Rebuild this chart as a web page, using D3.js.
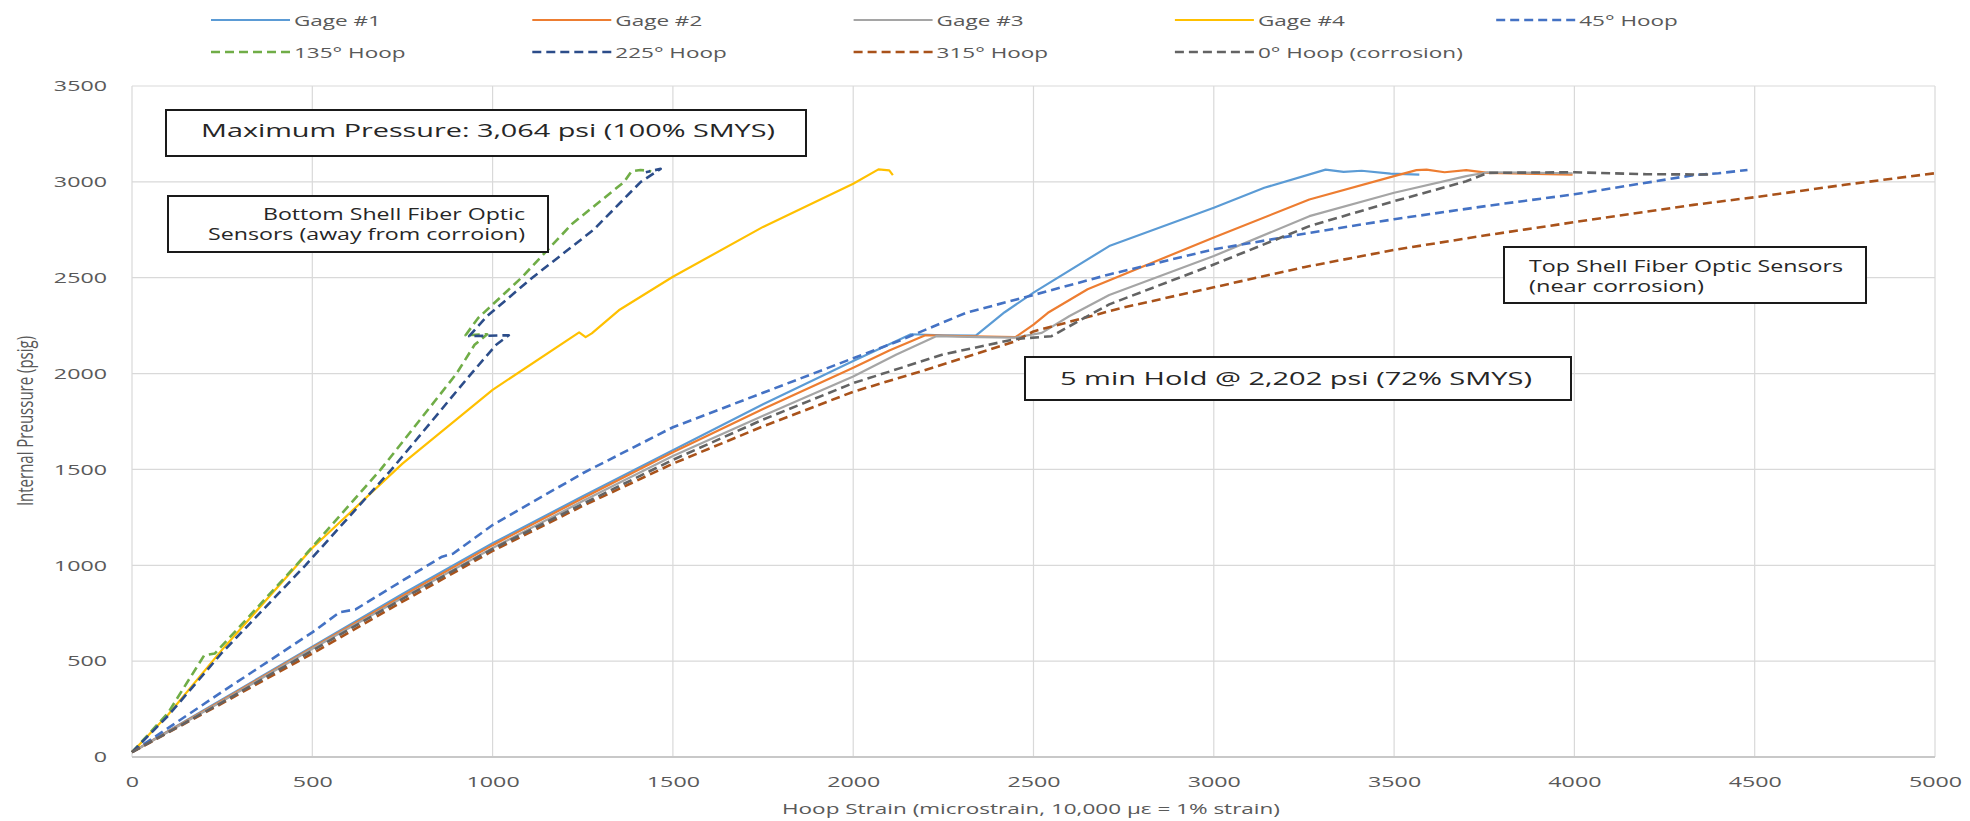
<!DOCTYPE html>
<html>
<head>
<meta charset="utf-8">
<script src="https://cdn.jsdelivr.net/npm/d3@7"></script>
<style>
  body { margin: 0; background: #fff; }
  text { font-family: "Open Sans", "DejaVu Sans", sans-serif; }
</style>
</head>
<body>
<svg id="chart"></svg>
<script>
// strain (microstrain) vs internal pressure (psig)
var gage1 = [[0,25],[250,300],[500,575],[750,850],[1000,1115],[1250,1360],[1500,1600],[1750,1840],[2000,2065],[2160,2205],[2250,2200],[2340,2198],[2420,2320],[2500,2422],[2710,2665],[3000,2865],[3140,2969],[3310,3064],[3360,3052],[3410,3058],[3490,3043],[3570,3038]];
var gage2 = [[0,25],[250,295],[500,570],[750,840],[1000,1105],[1250,1350],[1500,1590],[1750,1815],[2000,2030],[2100,2120],[2200,2200],[2300,2195],[2450,2190],[2500,2255],[2540,2317],[2650,2440],[3000,2710],[3265,2908],[3500,3030],[3562,3061],[3590,3064],[3640,3050],[3700,3061],[3760,3047],[3995,3038]];
var gage3 = [[0,25],[250,290],[500,565],[750,830],[1000,1090],[1250,1335],[1500,1570],[1750,1780],[2000,1985],[2120,2100],[2230,2195],[2350,2190],[2450,2188],[2523,2212],[2600,2300],[2710,2410],[3000,2613],[3265,2821],[3500,2943],[3700,3030],[3760,3050],[3995,3045]];
var gage4 = [[0,25],[100,220],[250,560],[500,1090],[750,1530],[1000,1915],[1240,2215],[1258,2190],[1275,2210],[1350,2330],[1500,2505],[1750,2765],[2000,2990],[2070,3065],[2100,3060],[2110,3035]];
var hoop45 = [[0,25],[250,340],[500,650],[576,755],[620,770],[750,920],[860,1045],[890,1060],[1000,1210],[1250,1480],[1500,1720],[1750,1900],[2000,2080],[2126,2170],[2313,2317],[2500,2410],[2710,2517],[3000,2648],[3265,2734],[3500,2805],[3759,2875],[4000,2935],[4330,3035],[4400,3045],[4480,3062]];
var hoop135 = [[0,25],[100,230],[200,530],[230,540],[455,1000],[690,1500],[900,2000],[950,2150],[985,2205],[925,2200],[960,2290],[1080,2500],[1220,2780],[1365,3000],[1385,3055],[1410,3062],[1440,3055]];
var hoop225 = [[0,25],[100,215],[250,545],[481,1000],[720,1500],[941,2000],[1010,2150],[1045,2200],[935,2195],[985,2300],[1110,2500],[1280,2750],[1411,3000],[1466,3068],[1425,3050]];
var hoop315 = [[0,25],[250,280],[500,540],[750,810],[1000,1075],[1250,1310],[1500,1530],[1750,1725],[2000,1905],[2220,2030],[2450,2169],[2500,2220],[2750,2345],[3000,2450],[3250,2555],[3500,2645],[3750,2720],[4000,2790],[4330,2880],[4500,2920],[4750,2985],[5000,3045]];
var hoop0 = [[0,25],[250,285],[500,555],[750,825],[1000,1085],[1250,1320],[1500,1550],[1750,1760],[2000,1950],[2250,2100],[2450,2180],[2550,2195],[2633,2282],[2710,2361],[3000,2569],[3265,2769],[3500,2899],[3700,3003],[3760,3047],[4000,3050],[4200,3040],[4380,3038]];

var seriesNames = ["Gage #1", "Gage #2", "Gage #3", "Gage #4", "45° Hoop", "135° Hoop", "225° Hoop", "315° Hoop", "0° Hoop (corrosion)"];
var seriesData = [gage1, gage2, gage3, gage4, hoop45, hoop135, hoop225, hoop315, hoop0];
var seriesColors = ["#5b9bd5", "#ed7d31", "#a5a5a5", "#ffc000", "#4472c4", "#70ad47", "#2c4d8a", "#a9521a", "#636363"];
var seriesDashed = [false, false, false, false, true, true, true, true, true];

var xTicks = [0, 500, 1000, 1500, 2000, 2500, 3000, 3500, 4000, 4500, 5000];
var yTicks = [0, 500, 1000, 1500, 2000, 2500, 3000, 3500];

var width = 1970, height = 821;
var stretchK = 1.5; // the picture is widened, so text is too

var svg = d3.select("#chart").attr("width", width).attr("height", height);

var x = d3.scaleLinear().domain([0, 5000]).range([132, 1935]);
var y = d3.scaleLinear().domain([0, 3500]).range([757, 86]);

function stretch(sel, k) {
  sel.each(function () {
    var n = this.getComputedTextLength();
    d3.select(this).attr("textLength", n * k).attr("lengthAdjust", "spacingAndGlyphs");
  });
}

// grid
svg.append("g").selectAll("line").data(xTicks).enter().append("line")
  .attr("x1", function (d) { return x(d); }).attr("x2", function (d) { return x(d); })
  .attr("y1", y(0)).attr("y2", y(3500))
  .attr("stroke", "#d9d9d9").attr("stroke-width", 1.2);
svg.append("g").selectAll("line").data(yTicks).enter().append("line")
  .attr("x1", x(0)).attr("x2", x(5000))
  .attr("y1", function (d) { return y(d); }).attr("y2", function (d) { return y(d); })
  .attr("stroke", "#d9d9d9").attr("stroke-width", 1.2);
svg.append("line").attr("x1", x(0)).attr("x2", x(5000)).attr("y1", y(0)).attr("y2", y(0))
  .attr("stroke", "#c8c8c8").attr("stroke-width", 2);

// axes
var xAxis = svg.append("g").attr("transform", "translate(0," + y(0) + ")")
  .call(d3.axisBottom(x).tickValues(xTicks).tickFormat(d3.format("d")).tickSize(0).tickPadding(19));
var yAxis = svg.append("g").attr("transform", "translate(" + x(0) + ",0)")
  .call(d3.axisLeft(y).tickValues(yTicks).tickFormat(d3.format("d")).tickSize(0).tickPadding(25));
[xAxis, yAxis].forEach(function (a) {
  a.select(".domain").remove();
  a.selectAll("text").attr("font-size", 15).attr("fill", "#595959")
    .style("font-family", "'Open Sans', sans-serif");
  stretch(a.selectAll("text"), 1.55);
});

svg.append("text").attr("x", 1031).attr("y", 814).attr("text-anchor", "middle")
  .attr("font-size", 15).attr("fill", "#595959")
  .text("Hoop Strain (microstrain, 10,000 µε = 1% strain)")
  .call(stretch, stretchK);

svg.append("text").attr("transform", "translate(33,421) scale(1.5,1) rotate(-90)")
  .attr("text-anchor", "middle").attr("font-size", 15).attr("fill", "#595959")
  .text("Internal Preussure (psig)");

// series
var line = d3.line().x(function (d) { return x(d[0]); }).y(function (d) { return y(d[1]); });
svg.append("g").selectAll("path").data(seriesData).enter().append("path")
  .attr("d", line)
  .attr("fill", "none")
  .attr("stroke", function (d, i) { return seriesColors[i]; })
  .attr("stroke-width", function (d, i) { return seriesDashed[i] ? 2.6 : 2.2; })
  .attr("stroke-dasharray", function (d, i) { return seriesDashed[i] ? "9,5" : null; })
  .attr("stroke-linejoin", "round");

// legend, two rows of five
var legend = svg.append("g").selectAll("g").data(seriesNames).enter().append("g")
  .attr("transform", function (d, i) {
    return "translate(" + (211 + (i % 5) * 321.3) + "," + (i < 5 ? 20 : 52) + ")";
  });
legend.append("line").attr("x1", 0).attr("x2", 79).attr("y1", 0).attr("y2", 0)
  .attr("stroke", function (d, i) { return seriesColors[i]; })
  .attr("stroke-width", function (d, i) { return seriesDashed[i] ? 2.6 : 2.2; })
  .attr("stroke-dasharray", function (d, i) { return seriesDashed[i] ? "9,5" : null; });
legend.append("text").attr("x", 83).attr("y", 5.5).attr("font-size", 15).attr("fill", "#595959")
  .text(function (d) { return d; })
  .call(stretch, stretchK);

// annotation boxes
var notes = [
  { box: [166, 110, 640, 46], lines: ["Maximum Pressure: 3,064 psi (100% SMYS)"], tx: 201, ty: [137], size: 18, len: [574], anchor: "start" },
  { box: [168, 196, 380, 56], lines: ["Bottom Shell Fiber Optic", "Sensors (away from corroion)"], tx: 525, ty: [220, 240], size: 16, len: [262, 317], anchor: "end" },
  { box: [1504, 247, 362, 56], lines: ["Top Shell Fiber Optic Sensors", "(near corrosion)"], tx: 1529, ty: [272, 292], size: 16, len: [314, 175], anchor: "start" },
  { box: [1025, 357, 546, 43], lines: ["5 min Hold @ 2,202 psi (72% SMYS)"], tx: 1060, ty: [385], size: 19, len: [472], anchor: "start" }
];
notes.forEach(function (n) {
  svg.append("rect").attr("x", n.box[0]).attr("y", n.box[1]).attr("width", n.box[2]).attr("height", n.box[3])
    .attr("fill", "#fff").attr("stroke", "#1a1a1a").attr("stroke-width", 2);
  n.lines.forEach(function (t, j) {
    svg.append("text").attr("x", n.tx).attr("y", n.ty[j]).attr("text-anchor", n.anchor)
      .attr("font-size", n.size).attr("fill", "#262626")
      .attr("textLength", n.len[j]).attr("lengthAdjust", "spacingAndGlyphs")
      .text(t);
  });
});
</script>
</body>
</html>
